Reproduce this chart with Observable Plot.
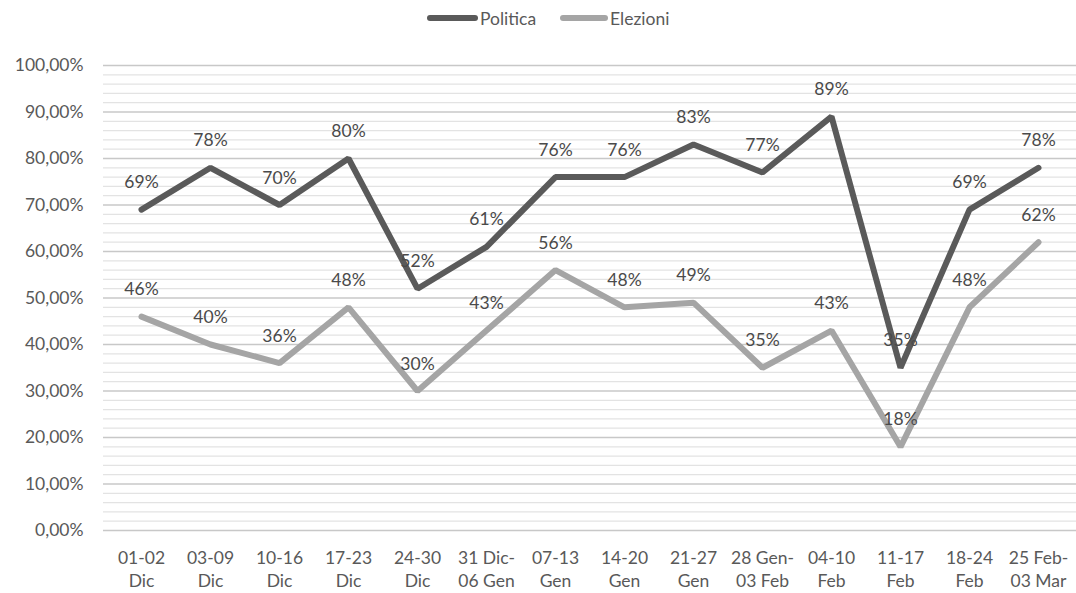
<!DOCTYPE html>
<html>
<head>
<meta charset="utf-8">
<script src="https://cdn.jsdelivr.net/npm/d3@7"></script>
<script src="https://cdn.jsdelivr.net/npm/@observablehq/plot@0.6"></script>
<style>
  html, body { margin: 0; padding: 0; background: #fff; }
  body { width: 1076px; height: 593px; overflow: hidden; font-family: Lato, "Open Sans", sans-serif; }
  #legend { position: relative; height: 36px; font-size: 17.5px; color: #595959; }
  .item { position: absolute; top: 0; height: 36px; display: flex; align-items: center; }
  .sw { height: 6px; border-radius: 3px; margin-right: 2px; }
</style>
</head>
<body>
<div id="legend"></div>
<div id="chart"></div>
<script>
// Weekly periods (two-line labels)
const periods = [
  "01-02\nDic", "03-09\nDic", "10-16\nDic", "17-23\nDic", "24-30\nDic",
  "31 Dic-\n06 Gen", "07-13\nGen", "14-20\nGen", "21-27\nGen", "28 Gen-\n03 Feb",
  "04-10\nFeb", "11-17\nFeb", "18-24\nFeb", "25 Feb-\n03 Mar"
];
// Share per period, in percent
const politica = [69, 78, 70, 80, 52, 61, 76, 76, 83, 77, 89, 35, 69, 78];
const elezioni = [46, 40, 36, 48, 30, 43, 56, 48, 49, 35, 43, 18, 48, 62];
const seriesNames = ["Politica", "Elezioni"];
const seriesColors = ["#5a5a5a", "#a5a5a5"];

const yMajor = d3.range(0, 101, 10);
const yMinor = d3.range(0, 101, 2).filter(v => v % 10 !== 0);

const rows = [politica, elezioni].flatMap((vals, s) =>
  vals.map((v, i) => ({period: periods[i], value: v, series: seriesNames[s]}))
);

// Legend: line swatch + name, placed side by side above the plot
const legend = document.getElementById("legend");
const legendLeft = [427, 560];
const swatchWidth = [51, 48];
seriesNames.forEach((name, i) => {
  const item = document.createElement("div");
  item.className = "item";
  item.style.left = legendLeft[i] + "px";
  const sw = document.createElement("div");
  sw.className = "sw";
  sw.style.width = swatchWidth[i] + "px";
  sw.style.background = seriesColors[i];
  const label = document.createElement("span");
  label.textContent = name;
  item.append(sw, label);
  legend.append(item);
});

const font = "Lato, 'Open Sans', sans-serif";
const chart = Plot.plot({
  width: 1076,
  height: 557,
  marginTop: 29,
  marginBottom: 63,
  marginLeft: 103,
  marginRight: 0,
  style: {fontFamily: font, fontSize: "17.5px", color: "#595959", background: "#fff"},
  x: {type: "point", domain: periods, padding: 0.5, label: null},
  y: {domain: [0, 100], label: null},
  color: {domain: seriesNames, range: seriesColors},
  marks: [
    Plot.ruleY(yMinor, {stroke: "#e3e3e3", strokeWidth: 1.2}),
    Plot.ruleY(yMajor, {stroke: "#c8c8c8", strokeWidth: 1.5}),
    Plot.axisY(yMajor, {
      tickSize: 0, tickPadding: 20, label: null,
      tickFormat: d => d.toFixed(2).replace(".", ",") + "%",
      fill: "#595959", fontSize: 17.5
    }),
    Plot.axisX({
      tickSize: 0, tickPadding: 16, label: null, lineHeight: 1.37,
      fill: "#595959", fontSize: 17.5
    }),
    Plot.line(rows, {
      x: "period", y: "value", z: "series", stroke: "series",
      strokeWidth: 6, strokeLinejoin: "miter", strokeLinecap: "round"
    }),
    Plot.text(rows, {
      x: "period", y: "value", text: d => d.value + "%",
      dy: -27, fill: "#4a4a4a", fontSize: 17.5
    })
  ]
});
document.getElementById("chart").append(chart);
</script>
</body>
</html>
